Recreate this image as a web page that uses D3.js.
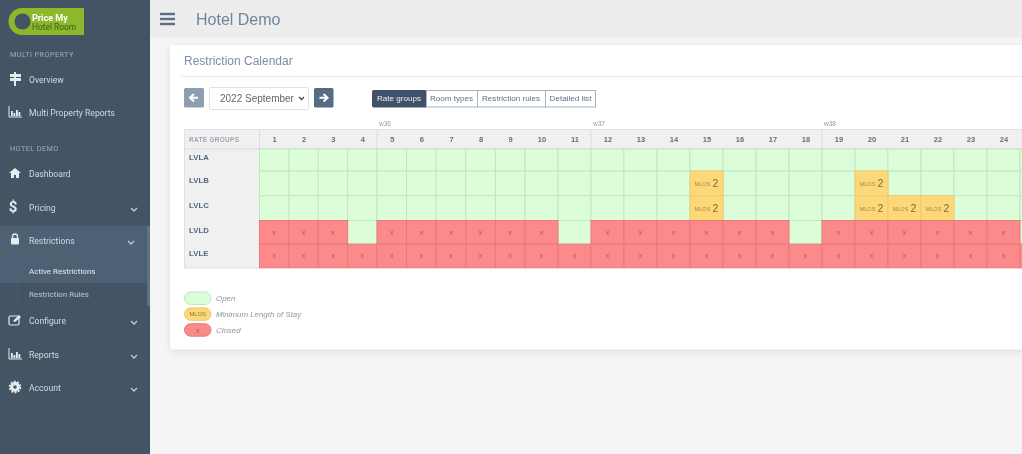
<!DOCTYPE html>
<html><head><meta charset="utf-8">
<script src="https://cdn.jsdelivr.net/npm/d3@7/dist/d3.min.js"></script>
<style>
html,body{margin:0;padding:0;overflow:hidden;background:#f5f5f5}
svg{display:block;filter:blur(.45px)}
text{font-family:"Liberation Sans",Arial,sans-serif}
.side text{font-family:Roboto,"Liberation Sans",sans-serif}
</style></head><body>
<svg id="c" width="1022" height="454"></svg>
<script>
const days = d3.range(1, 26);
const dayLabels = days.slice(0, 24);
const rateGroups = ["LVLA","LVLB","LVLC","LVLD","LVLE"];
const lvlaStatus = "OOOOOOOOOOOOOOOOOOOOOOOOO".split("");
const lvlbStatus = "OOOOOOOOOOOOOOMOOOOMOOOOO".split("");
const lvlcStatus = "OOOOOOOOOOOOOOMOOOOMMMOOO".split("");
const lvldStatus = "XXXOXXXXXXOXXXXXXOXXXXXXO".split("");
const lvleStatus = "XXXXXXXXXXXXXXXXXXXXXXXXX".split("");
const statusRows = [lvlaStatus, lvlbStatus, lvlcStatus, lvldStatus, lvleStatus];
const mlosValue = 2;
const weekLabels = [{day:5,label:"w36"},{day:12,label:"w37"},{day:19,label:"w38"}];
const tabs = ["Rate groups","Room types","Restriction rules","Detailed list"];
const legendItems = [["O","","Open"],["M","MLOS","Minimum Length of Stay"],["X","x","Closed"]];
const navItems = [
 ["head","MULTI PROPERTY",54],["item","Overview",80,"sign"],["item","Multi Property Reports",113,"bars"],
 ["head","HOTEL DEMO",148],["item","Dashboard",174,"home"],["item","Pricing",208,"dollar",1],
 ["item","Restrictions",241,"lock",1],["sub","Active Restrictions",271],["sub","Restriction Rules",294],
 ["item","Configure",321,"edit",1],["item","Reports",355,"bars",1],["item","Account",388,"gear",1]];

const fill = {O:"#dbfdd7",M:"#fdd878",X:"#fd8a8a"}, line = {O:"#c3e6c1",M:"#eccb70",X:"#e97a7a"};
const svg = d3.select("#c");
const R=(g,x,y,w,h,f,o={})=>{const r=g.append("rect").attr("x",x).attr("y",y).attr("width",w).attr("height",h).attr("fill",f);Object.entries(o).forEach(([k,v])=>r.attr(k,v));return r;};
const T=(g,x,y,s,size,f,o={})=>{const t=g.append("text").attr("x",x).attr("y",y).attr("font-size",size).attr("fill",f).attr("dominant-baseline","central").text(s);Object.entries(o).forEach(([k,v])=>t.attr(k,v));return t;};

// page
R(svg,0,0,1022,454,"#f5f5f5");
R(svg,150,0,872,38,"#ededed");
[14,19,24].forEach(y=>R(svg,160,y-1.2,15,2.4,"#5c7085"));
T(svg,196,19,"Hotel Demo",16,"#70859c");

// sidebar
const side = svg.append("g").attr("class","side");
R(side,0,0,150,454,"#445465");
R(side,0,226,147,57,"#4e6074");
R(side,147,226,3,80,"#5d7188");
R(side,17,260,.6,46,"#52647a");
// logo
R(side,22,8,62,27,"#8cb82b");
side.append("circle").attr("cx",22).attr("cy",21.5).attr("r",13.5).attr("fill","#8cb82b");
side.append("circle").attr("cx",22.5).attr("cy",21.5).attr("r",8).attr("fill","#445465");
T(side,32,17.5,"Price My",9,"#fff",{"font-weight":"bold"});
T(side,32,27,"Hotel Room",8.4,"#3f5a22");

function icon(g,k,x,y){
  const c="#e8ebee";
  if(k==="sign"){R(g,x-1,y-7,2,14,c);R(g,x-5,y-5,11,3,c);R(g,x-5,y-1,11,3,c);}
  if(k==="bars"){g.append("path").attr("d",`M${x-6} ${y-6}V${y+5}H${x+7}`).attr("fill","none").attr("stroke",c);
    [[-4,5],[-1.5,3],[1,6],[3.5,4]].forEach(([a,h])=>R(g,x+a,y+4-h,1.8,h,c));}
  if(k==="home")g.append("path").attr("d",`M${x-6} ${y}L${x} ${y-5}L${x+6} ${y}L${x+4} ${y}V${y+5}H${x+1}V${y+2}H${x-1}V${y+5}H${x-4}V${y}Z`).attr("fill",c);
  if(k==="dollar")T(g,x-2,y,"$",15,c,{"text-anchor":"middle","font-weight":"bold"});
  if(k==="lock"){R(g,x-4,y-2,8,6.5,c,{rx:1});g.append("path").attr("d",`M${x-2.5} ${y-2}V${y-3.5}a2.5 2.5 0 0 1 5 0V${y-2}`).attr("fill","none").attr("stroke",c).attr("stroke-width",1.3);}
  if(k==="edit"){R(g,x-6,y-4,10,9,"none",{stroke:c,rx:1.5,"stroke-width":1.2});g.append("path").attr("d",`M${x-2} ${y+1}L${x+4} ${y-5}L${x+6} ${y-3}L${x} ${y+2}Z`).attr("fill",c);}
  if(k==="gear"){g.append("circle").attr("cx",x).attr("cy",y).attr("r",3.4).attr("fill","none").attr("stroke",c).attr("stroke-width",3.2);
    g.append("circle").attr("cx",x).attr("cy",y).attr("r",5.6).attr("fill","none").attr("stroke",c).attr("stroke-width",1.4).attr("stroke-dasharray","2 1.5");}
}
navItems.forEach(([kind,label,y,ic,chev])=>{
  if(kind==="head") T(side,10,y,label,7.3,"#a2adb8",{"letter-spacing":".4"});
  if(kind==="sub") T(side,29,y,label,8,label==="Active Restrictions"?"#e8ebee":"#c0c8d0");
  if(kind==="item"){
    T(side,29,y,label,8.6,"#d5dae0");
    icon(side,ic,15,y-1);
    if(chev) side.append("path").attr("d",`M${label==="Restrictions"?128:131} ${y}l3 3l3 -3`).attr("fill","none").attr("stroke","#c5ccd3").attr("stroke-width",1.3);
  }
});

// card
const defs=svg.append("defs");
const fl=defs.append("filter").attr("id","sh").attr("x","-5%").attr("y","-5%").attr("width","110%").attr("height","115%");
fl.append("feDropShadow").attr("dx",0).attr("dy",2).attr("stdDeviation",3).attr("flood-color","#000").attr("flood-opacity",.1);
R(svg,170,45,880,304.5,"#fff",{rx:3,filter:"url(#sh)"});
T(svg,184,60.5,"Restriction Calendar",12,"#7b8ea3");
R(svg,181,76,841,1,"#e4e6e8");

// controls
R(svg,184,88,20,19.5,"#8d9eb1",{rx:1.5});
R(svg,314,88,19.5,19.5,"#566c85",{rx:1.5});
const arrow=(x,dir)=>svg.append("path").attr("d",`M${x-4*dir} 97.7H${x+3.5*dir}M${x} 94L${x+4*dir} 97.7L${x} 101.4`).attr("fill","none").attr("stroke","#fff").attr("stroke-width",2);
arrow(194,-1);arrow(323.5,1);
R(svg,209.5,87.5,99,22,"#fff",{stroke:"#e2e2e2",rx:1});
T(svg,220,98.5,"2022 September",10,"#666");
svg.append("path").attr("d","M299 97l2.5 2.5l2.5 -2.5").attr("fill","none").attr("stroke","#444").attr("stroke-width",1.3);

const tabX = d3.scaleOrdinal().domain(tabs).range([372,426,477,545]);
const tabW = d3.scaleOrdinal().domain(tabs).range([54,51,68,51]);
tabs.forEach((t,i)=>{
  R(svg,tabX(t)+.5,90.5,tabW(t)-1+(i<3?1:0),16.5,i?"#fff":"#3f5269",{stroke:i?"#a9b3bd":"#3f5269",rx:i?0:1});
  T(svg,tabX(t)+tabW(t)/2,98.8,t,8.1,i?"#5f7082":"#eef1f4",{"text-anchor":"middle"});
});

// scales
const x = d3.scaleLinear().domain([1,5,10,25,26]).range([259.5,377,525,1020,1053]);
const y = d3.scaleLinear().domain([0,1,3,5]).range([149,171,220.5,267.8]);

// header / left column
R(svg,184.5,129.5,75,138.5,"#f0f0f0",{stroke:"#e0e0e0"});
R(svg,259.5,129.5,770,19.5,"#f0f0f0",{stroke:"#e0e0e0"});
R(svg,184,148,838,1.5,"#e2e2e2");
T(svg,189,139.5,"RATE GROUPS",6.4,"#9aa7b4",{"font-weight":"bold","letter-spacing":".35"});

// week separators + labels
[1,...weekLabels.map(d=>d.day)].forEach(d=>R(svg,x(d)-.5,129.5,1,19.5,"#dcdcdc"));
weekLabels.forEach(w=>T(svg,x(w.day)+8,123,w.label,6.5,"#8d9aa8",{"text-anchor":"middle"}));

// day axis
const axis = d3.axisTop(x).tickValues(dayLabels).tickSize(0).tickPadding(0).tickFormat(d3.format("d"));
const axG = svg.append("g").attr("transform","translate(0,139)").call(axis);
axG.select(".domain").remove();
axG.selectAll("text").attr("x",d=>(x(d+1)-x(d))/2).attr("y",0).attr("dy",0).attr("dominant-baseline","central")
  .attr("font-size",7.5).attr("font-weight","bold").attr("font-family","Liberation Sans").attr("fill","#5f7082");

// group labels
rateGroups.forEach((g,i)=>T(svg,189,i===0?157.5:y(i)+9.5,g,7.8,"#55667a",{"font-weight":"bold"}));

// cells
const cells = rateGroups.flatMap((g,r)=>days.map((d,c)=>({r,d,s:statusRows[r][c]})));
const order = {O:0,M:1,X:2};
const cg = svg.append("g");
cg.selectAll("rect").data(cells.slice().sort((a,b)=>order[a.s]-order[b.s])).join("rect")
  .attr("x",c=>x(c.d)).attr("y",c=>y(c.r)).attr("width",c=>x(c.d+1)-x(c.d)).attr("height",c=>y(c.r+1)-y(c.r))
  .attr("fill",c=>fill[c.s]).attr("stroke",c=>line[c.s]).attr("stroke-width",1);
cells.filter(c=>c.s==="X"&&c.d<25).forEach(c=>T(cg,(x(c.d)+x(c.d+1))/2,(y(c.r)+y(c.r+1))/2,"x",7,"#9c6262",{"text-anchor":"middle"}));
cells.filter(c=>c.s==="M").forEach(c=>{
  const cx=(x(c.d)+x(c.d+1))/2, cy=(y(c.r)+y(c.r+1))/2;
  T(cg,cx-4,cy+.5,"MLOS",5.6,"#a9894a",{"text-anchor":"middle"});
  T(cg,cx+9,cy-.5,mlosValue,10.5,"#7d6a3a",{"text-anchor":"middle"});
});

// legend
legendItems.forEach(([s,txt,label],i)=>{
  const py=d3.scaleLinear().domain([0,2]).range([292,323.7])(i);
  R(svg,184.5,py,26.5,12.5,fill[s],{rx:6.2,stroke:line[s]});
  if(txt) T(svg,197.7,py+6.5,txt,s==="M"?5.8:7,s==="M"?"#8a7340":"#9c6262",{"text-anchor":"middle"});
  T(svg,216,py+6.5,label,7.9,"#8b97a3",{"font-style":"italic"});
});
</script></body></html>
